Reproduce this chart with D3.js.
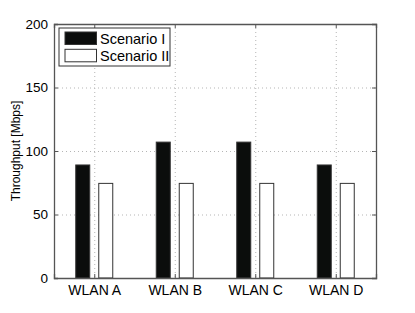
<!DOCTYPE html>
<html>
<head>
<meta charset="utf-8">
<script src="https://cdn.jsdelivr.net/npm/d3@7/dist/d3.min.js"></script>
<style>
  body { margin: 0; background: #fff; }
  text { font-family: "Liberation Sans", Arial, Helvetica, sans-serif; fill: #000; }
</style>
</head>
<body>
<div id="chart"></div>
<script>
// data
var categories = ['WLAN A', 'WLAN B', 'WLAN C', 'WLAN D']
var scenario1 = [89, 107, 107, 89]
var scenario2 = [74.5, 74.5, 74.5, 74.5]
var seriesNames = ['Scenario I', 'Scenario II']
var yTicks = [0, 50, 100, 150, 200]

// set dimensions
var W = 415, H = 313
var margin = { top: 24, right: 39, bottom: 35, left: 54 }
var width = W - margin.left - margin.right
var height = H - margin.top - margin.bottom

var svg = d3.select('#chart').append('svg')
    .attr('width', W)
    .attr('height', H)
var g = svg.append('g')
    .attr('transform', 'translate(' + margin.left + ',' + margin.top + ')')

// categories sit on 1..4, domain padded by half a step like matlab
var x = d3.scaleLinear().domain([0.5, categories.length + 0.5]).range([0, width])
var y = d3.scaleLinear().domain([0, 200]).range([height, 0])

var barW = 14
var offset = 11.5

// grid (dotted)
g.append('g').selectAll('line.gy')
    .data(yTicks.slice(1, -1))
    .enter().append('line')
    .attr('x1', 0).attr('x2', width)
    .attr('y1', function (d) { return y(d) + 0.5 })
    .attr('y2', function (d) { return y(d) + 0.5 })
    .style('stroke', '#b5b5b5')
    .style('stroke-dasharray', '1,3')
g.append('g').selectAll('line.gx')
    .data(categories)
    .enter().append('line')
    .attr('x1', function (d, i) { return x(i + 1) + 0.5 })
    .attr('x2', function (d, i) { return x(i + 1) + 0.5 })
    .attr('y1', 0).attr('y2', height)
    .style('stroke', '#b5b5b5')
    .style('stroke-dasharray', '1,3')

// bars
var series = [scenario1, scenario2]
var fills = ['#0b0d0c', '#ffffff']
series.forEach(function (vals, s) {
    g.append('g').selectAll('rect')
        .data(vals)
        .enter().append('rect')
        .attr('x', function (d, i) { return x(i + 1) + (s === 0 ? -offset : offset) - barW / 2 })
        .attr('y', function (d) { return y(d) })
        .attr('width', barW)
        .attr('height', function (d) { return height - y(d) })
        .style('fill', fills[s])
        .style('stroke', '#333')
        .style('stroke-width', 1)
})

// axes box
var axisColor = '#555'
var yAxis = d3.axisLeft(y).tickValues(yTicks).tickSize(-4).tickPadding(6)
var yAxisR = d3.axisRight(y).tickValues(yTicks).tickSize(-4).tickFormat('')
var xAxis = d3.axisBottom(x).tickValues(d3.range(1, categories.length + 1))
    .tickSize(-4).tickPadding(7)
    .tickFormat(function (d) { return categories[d - 1] })
var xAxisT = d3.axisTop(x).tickValues(d3.range(1, categories.length + 1))
    .tickSize(-4).tickFormat('')

var gy = g.append('g').call(yAxis)
var gyr = g.append('g').attr('transform', 'translate(' + width + ',0)').call(yAxisR)
var gx = g.append('g').attr('transform', 'translate(0,' + height + ')').call(xAxis)
var gxt = g.append('g').call(xAxisT)

;[gy, gyr, gx, gxt].forEach(function (a) {
    a.select('.domain').style('stroke', axisColor).style('stroke-width', 1.3)
    a.selectAll('.tick line').style('stroke', axisColor)
})
gy.selectAll('.tick text').style('font-size', '13.5px').style('fill', '#000')
gx.selectAll('.tick text').style('font-size', '14px').style('fill', '#000')

// y label
g.append('text')
    .attr('transform', 'rotate(-90)')
    .attr('x', -height / 2)
    .attr('y', -margin.left + 20)
    .style('text-anchor', 'middle')
    .style('font-size', '12px')
    .text('Throughput [Mbps]')

// legend
var leg = g.append('g').attr('transform', 'translate(5,4)')
leg.append('rect')
    .attr('width', 111).attr('height', 38)
    .style('fill', '#fff')
    .style('stroke', '#333')
leg.selectAll('rect.sw')
    .data(seriesNames)
    .enter().append('rect')
    .attr('x', 6)
    .attr('y', function (d, i) { return 4 + i * 17.3 })
    .attr('width', 31.5).attr('height', 12.5)
    .style('fill', function (d, i) { return fills[i] })
    .style('stroke', '#333')
leg.selectAll('text')
    .data(seriesNames)
    .enter().append('text')
    .attr('x', 41)
    .attr('y', function (d, i) { return 15.5 + i * 17.3 })
    .style('font-size', '14.5px')
    .text(function (d) { return d })
</script>
</body>
</html>
